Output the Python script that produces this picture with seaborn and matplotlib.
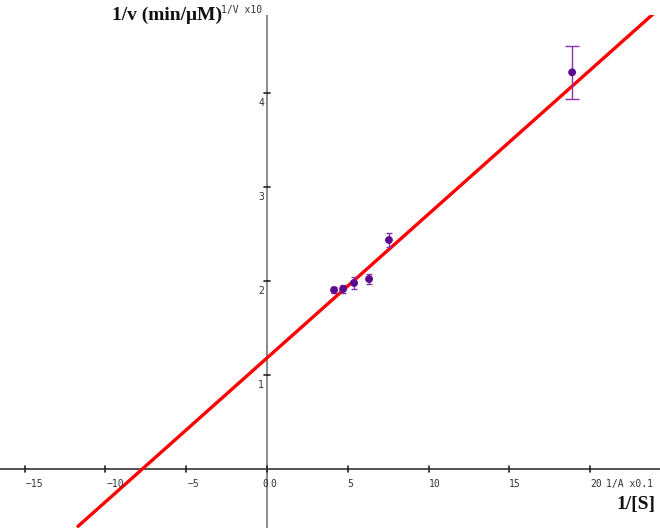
import matplotlib
matplotlib.use("Agg")
import matplotlib.pyplot as plt
import seaborn as sns
import pandas as pd
import numpy as np

# data (1/[S] in units of 0.1, 1/v in units of 10)
inv_s = [4.15, 4.71, 5.39, 6.32, 7.55, 18.89]
inv_v = [1.904, 1.915, 1.979, 2.021, 2.436, 4.22]
inv_v_err = [0.03, 0.04, 0.06, 0.05, 0.07, 0.28]

fit_x = [-11.7, 23.9]
fit_y = [-0.61, 4.84]

x_ticks = [-15, -10, -5, 0, 5, 10, 15, 20]
y_ticks = [1, 2, 3, 4]

sns.set_theme(style="white")
plt.rcParams['font.family'] = ['DejaVu Sans']

fig = plt.figure(figsize=(6.6, 5.3), dpi=100)
ax = fig.add_axes([0, 2/530, 1, 513/530])

xmin, xmax = -16.53, 24.33
ymin, ymax = -0.628, 4.83
ax.set_xlim(xmin, xmax)
ax.set_ylim(ymin, ymax)

pts = pd.DataFrame({"x": inv_s, "y": inv_v, "err": inv_v_err})
line = pd.DataFrame({"x": fit_x, "y": fit_y})

sns.lineplot(data=line, x="x", y="y", ax=ax, color="#ff0000", lw=2.4, zorder=3)
small = pts.iloc[:-1]
big = pts.iloc[-1:]
ax.errorbar(small["x"], small["y"], yerr=small["err"], fmt="none", ecolor="#8a2fb0",
            elinewidth=1.0, capsize=2.2, capthick=1.0, zorder=4)
ax.errorbar(big["x"], big["y"], yerr=big["err"], fmt="none", ecolor="#8a2fb0",
            elinewidth=1.0, capsize=5, capthick=1.0, zorder=4)
sns.scatterplot(data=pts, x="x", y="y", ax=ax, color="#5a0a90", s=32,
                marker="o", edgecolor="none", zorder=5)

# axes through origin
for s in ["top", "right", "left", "bottom"]:
    ax.spines[s].set_visible(False)
ax.axhline(0, color="#333333", lw=1.2, zorder=2)
ax.axvline(0, color="#777777", lw=1.2, zorder=2)
ax.set_xticks([])
ax.set_yticks([])
ax.set_xlabel("")
ax.set_ylabel("")
ax.grid(False)

mono = "DejaVu Sans Mono"
tick_c = "#333333"
# x ticks
for t in x_ticks:
    ax.plot([t, t], [-0.035, 0.035], color="#222222", lw=1.2, zorder=2)
    if t == 0:
        ax.annotate("0", (0, 0), xytext=(-5, -10), textcoords="offset pixels",
                    fontsize=7, family=mono, color=tick_c, ha="left", va="top")
        ax.annotate("0", (0, 0), xytext=(3, -10), textcoords="offset pixels",
                    fontsize=7, family=mono, color=tick_c, ha="left", va="top")
    else:
        ax.annotate(f"{t}".replace("-", "\u2212"), (t, 0), xytext=(0 if t > 0 else 1, -10),
                    textcoords="offset pixels", fontsize=7, family=mono,
                    color=tick_c, ha="left", va="top")
# y ticks
for t in y_ticks:
    ax.plot([-0.2, 0.2], [t, t], color="#222222", lw=1.2, zorder=2)
    ax.annotate(f"{t}", (0, t), xytext=(-3, -5), textcoords="offset pixels",
                fontsize=7, family=mono, color=tick_c, ha="right", va="top")

# small axis unit labels
ax.annotate("1/A x0.1", (20, 0), xytext=(16, -10), textcoords="offset pixels",
            fontsize=7, family=mono, color=tick_c, ha="left", va="top")
fig.text(262/660, 1 - 10/530, "1/V x10", fontsize=7, family=mono, color=tick_c,
         ha="right", va="center")

# big labels
fig.text(222/660, 1 - 15/530, "1/v (min/\u03bcM)", fontsize=14, fontweight="bold",
         family="Liberation Serif", color="#111111", ha="right", va="center")
fig.text(655/660, 1 - 505/530, "1/[S]", fontsize=14, fontweight="bold",
         family="Liberation Serif", color="#111111", ha="right", va="center")

fig.savefig("out.png", dpi=100)
